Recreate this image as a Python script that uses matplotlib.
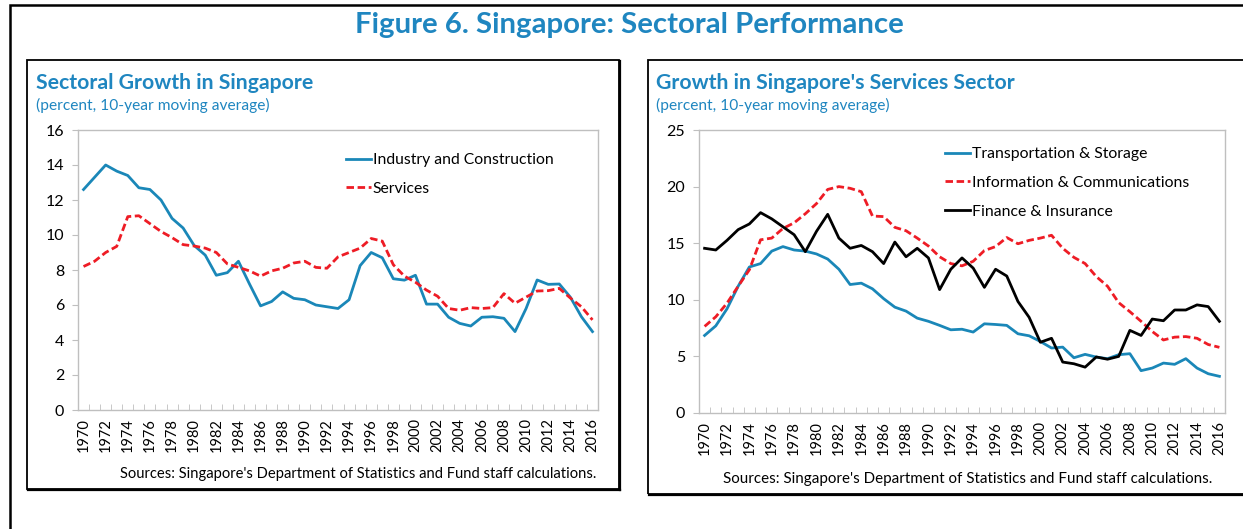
import numpy as np
import matplotlib
matplotlib.use("Agg")
import matplotlib.pyplot as plt
from matplotlib.patches import Rectangle
from matplotlib.lines import Line2D

plt.rcParams['font.family'] = ['Lato', 'DejaVu Sans']

years = list(range(1970, 2017))

# left panel
industry = [12.6, 13.3, 14.0, 13.65, 13.4, 12.7, 12.6, 12.0, 10.95, 10.4,
            9.4, 8.85, 7.7, 7.85, 8.5, 7.2, 5.95, 6.2, 6.75, 6.38,
            6.3, 6.0, 5.9, 5.8, 6.3, 8.25, 9.0, 8.7, 7.5, 7.42,
            7.7, 6.05, 6.05, 5.3, 4.95, 4.8, 5.3, 5.33, 5.24, 4.48,
            5.8, 7.43, 7.18, 7.2, 6.45, 5.33, 4.48]
services = [8.2, 8.5, 9.0, 9.35, 11.05, 11.1, 10.65, 10.2, 9.85, 9.45,
            9.37, 9.25, 9.0, 8.35, 8.15, 7.95, 7.65, 7.95, 8.1, 8.4,
            8.5, 8.15, 8.1, 8.75, 9.0, 9.25, 9.8, 9.65, 8.3, 7.65,
            7.3, 6.85, 6.5, 5.8, 5.7, 5.85, 5.8, 5.85, 6.65, 6.1,
            6.45, 6.8, 6.82, 6.95, 6.4, 5.9, 5.15]

# right panel
transport = [6.85, 7.7, 9.2, 11.2, 12.9, 13.2, 14.3, 14.7, 14.4, 14.3,
             14.05, 13.6, 12.7, 11.35, 11.47, 10.97, 10.1, 9.35, 9.0, 8.38,
             8.1, 7.74, 7.35, 7.4, 7.15, 7.88, 7.82, 7.74, 7.0, 6.82,
             6.32, 5.74, 5.82, 4.88, 5.18, 4.94, 4.8, 5.15, 5.24, 3.74,
             3.97, 4.41, 4.3, 4.8, 3.97, 3.47, 3.24]
infocomm = [7.65, 8.5, 9.7, 11.2, 12.65, 15.3, 15.45, 16.3, 16.8, 17.6,
            18.5, 19.75, 20.0, 19.85, 19.55, 17.4, 17.35, 16.4, 16.1, 15.45,
            14.75, 13.8, 13.2, 13.0, 13.4, 14.35, 14.7, 15.5, 14.95, 15.25,
            15.45, 15.7, 14.55, 13.75, 13.2, 12.05, 11.2, 9.75, 8.95, 8.1,
            7.2, 6.45, 6.7, 6.75, 6.6, 6.05, 5.8]
finance = [14.55, 14.4, 15.25, 16.2, 16.7, 17.7, 17.15, 16.45, 15.75, 14.25,
           16.05, 17.55, 15.45, 14.55, 14.8, 14.25, 13.2, 15.1, 13.8, 14.55,
           13.7, 10.9, 12.7, 13.7, 12.8, 11.1, 12.7, 12.1, 9.85, 8.45,
           6.25, 6.6, 4.5, 4.35, 4.05, 4.95, 4.75, 5.0, 7.3, 6.85,
           8.3, 8.15, 9.1, 9.1, 9.55, 9.4, 8.1]

BLUE = '#1A87B8'
RED = '#EE1C25'
TITLE = '#1F86C0'
GREY = '#BFBFBF'

W, H = 1243, 529
fig = plt.figure(figsize=(W / 100, H / 100), dpi=100)


def fx(px):
    return px / W


def fy(py):
    return 1 - py / H


def box(x0, y0, x1, y1, lw=1.3, shadow=True):
    fig.add_artist(Rectangle((fx(x0), fy(y1)), fx(x1 - x0), (y1 - y0) / H,
                             transform=fig.transFigure, fill=False,
                             ec='black', lw=lw))
    if shadow:
        fig.add_artist(Line2D([fx(x0 + 1), fx(x1 + 1)], [fy(y1 + 1)] * 2,
                              transform=fig.transFigure, color='black', lw=1.6))
        fig.add_artist(Line2D([fx(x1 + 1)] * 2, [fy(y0 + 1), fy(y1 + 1)],
                              transform=fig.transFigure, color='black', lw=1.6))


# outer frame (only top/left visible)
box(9.5, 5, 1260, 560, lw=1.8, shadow=False)
box(27, 60, 619, 489)
box(648, 60, 1265, 494)

fig.text(fx(629), fy(25), 'Figure 6. Singapore: Sectoral Performance',
         ha='center', va='center', fontsize=21.2, fontweight='bold', color=TITLE)


def panel(rect, series, ymax, ystep, title, title_x, legend_xy):
    ax = fig.add_axes(rect)
    x = np.arange(len(years))
    for vals, lab, col, ls in series:
        ax.plot(x, vals, color=col, lw=2.0, ls=ls, label=lab)
    ax.set_xlim(-0.5, len(years) - 0.5)
    ax.set_ylim(0, ymax)
    ax.set_yticks(np.arange(0, ymax + 0.1, ystep))
    ax.set_xticks(x[::2])
    ax.set_xticklabels([str(y) for y in years[::2]], rotation=90)
    ax.set_xticks(np.arange(-0.5, len(years), 1), minor=True)
    ax.tick_params(axis='x', which='major', length=0, pad=6, labelsize=10.5)
    ax.tick_params(axis='x', which='minor', direction='in', length=4, color=GREY)
    ax.tick_params(axis='y', length=4, color=GREY, labelsize=11.5, pad=6)
    for s in ax.spines.values():
        s.set_color(GREY)
        s.set_linewidth(1.0)
    ax.legend(loc='upper left', bbox_to_anchor=(fx(legend_xy[0]), fy(legend_xy[1])),
              bbox_transform=fig.transFigure, frameon=False, fontsize=11.3,
              handlelength=1.6, handletextpad=0.1, labelspacing=0.95,
              borderaxespad=0, borderpad=0)
    fig.text(fx(title_x), fy(83), title, ha='left', va='center',
             fontsize=15.3, fontweight='bold', color=TITLE)
    fig.text(fx(title_x), fy(105), '(percent, 10-year moving average)',
             ha='left', va='center', fontsize=11.2, color=TITLE)
    return ax


axL = panel([fx(78), fy(410), fx(598 - 78), 280 / H],
            [(industry, 'Industry and Construction', BLUE, '-'),
             (services, 'Services', RED, (0, (2.7, 1.3)))],
            16, 2, 'Sectoral Growth in Singapore', 36, (346, 153))
axR = panel([fx(699), fy(413), fx(1225 - 699), 283 / H],
            [(transport, 'Transportation & Storage', BLUE, '-'),
             (infocomm, 'Information & Communications', RED, (0, (2.7, 1.3))),
             (finance, 'Finance & Insurance', 'black', '-')],
            25, 5, "Growth in Singapore's Services Sector", 656, (945, 147))

src = "Sources: Singapore's Department of Statistics and Fund staff calculations."
fig.text(fx(358), fy(474), src, ha='center', va='center', fontsize=10.6)
fig.text(fx(968), fy(479), src, ha='center', va='center', fontsize=10.9)

fig.savefig('out.png', dpi=100)
